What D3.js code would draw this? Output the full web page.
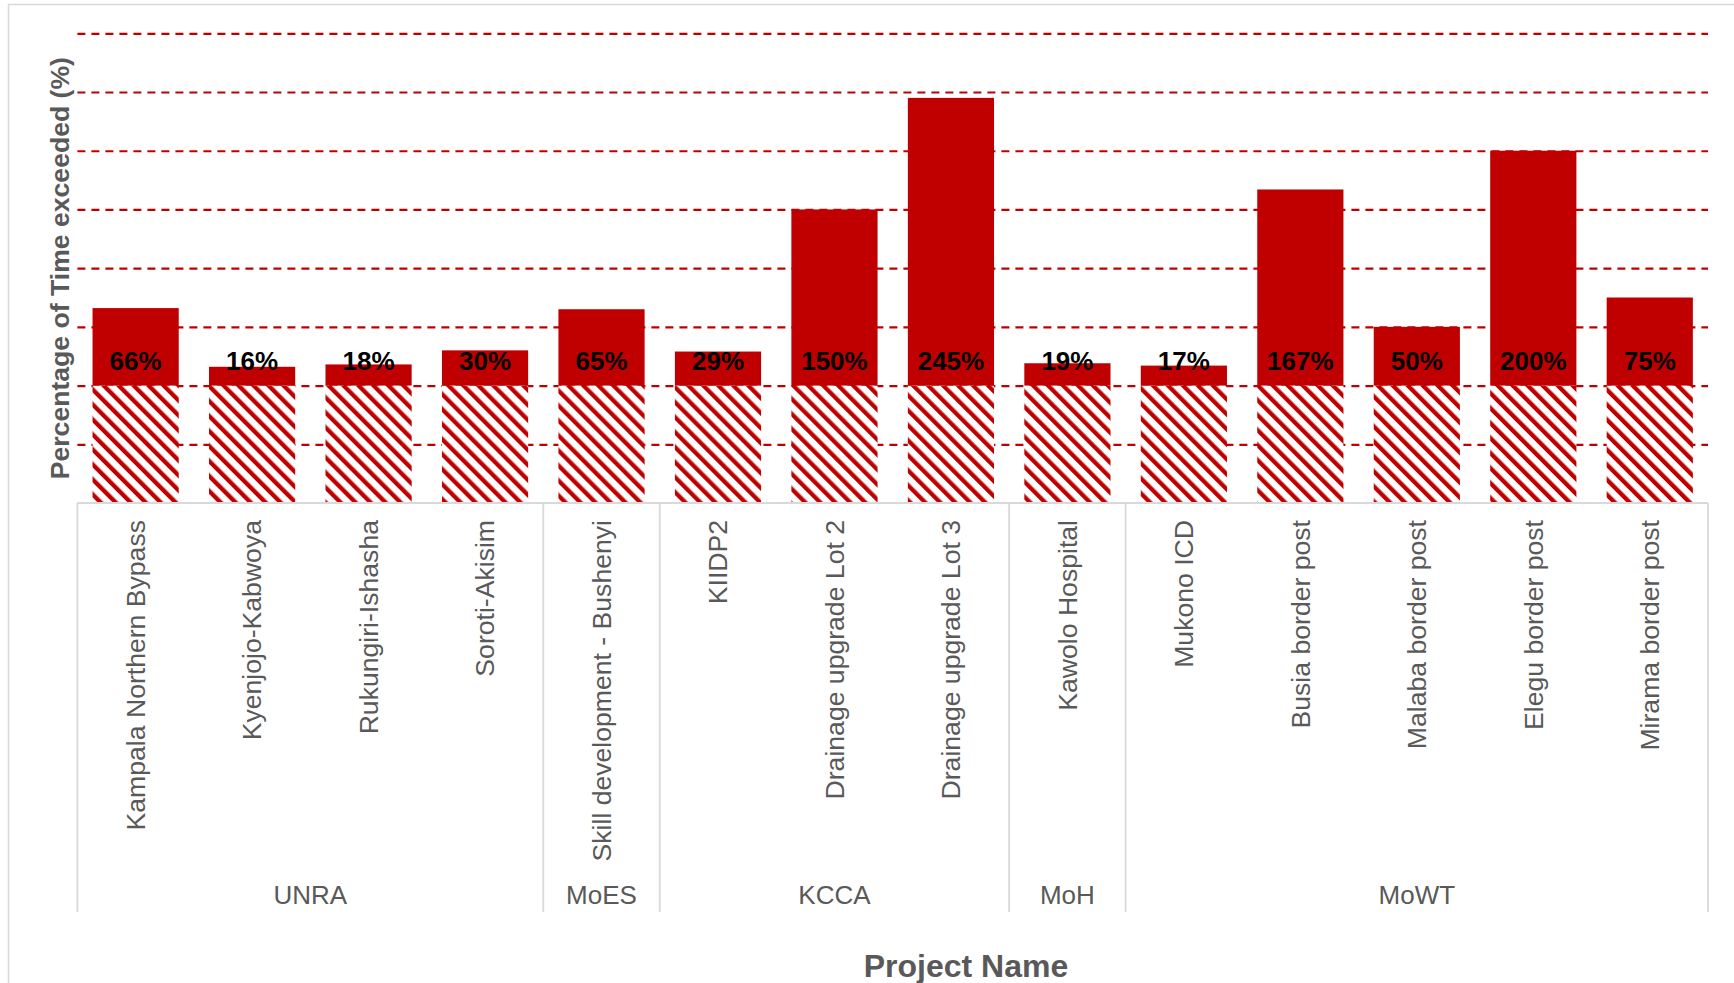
<!DOCTYPE html>
<html>
<head>
<meta charset="utf-8">
<script src="https://cdn.jsdelivr.net/npm/d3@7"></script>
<style>
  html, body { margin: 0; padding: 0; background: #ffffff; }
  svg { display: block; }
  text { font-family: "Liberation Sans", Arial, sans-serif; }
</style>
</head>
<body>
<svg id="chart" width="1734" height="983"></svg>
<script>
// ---- data ----
const categories = [
  "Kampala Northern Bypass", "Kyenjojo-Kabwoya", "Rukungiri-Ishasha", "Soroti-Akisim",
  "Skill development - Bushenyi",
  "KIIDP2", "Drainage upgrade Lot 2", "Drainage upgrade Lot 3",
  "Kawolo Hospital",
  "Mukono ICD", "Busia border post", "Malaba border post", "Elegu border post", "Mirama border post"
];
const agencies = [
  "UNRA", "UNRA", "UNRA", "UNRA",
  "MoES",
  "KCCA", "KCCA", "KCCA",
  "MoH",
  "MoWT", "MoWT", "MoWT", "MoWT", "MoWT"
];
const plannedTime = [100, 100, 100, 100, 100, 100, 100, 100, 100, 100, 100, 100, 100, 100];
const timeExceeded = [66, 16, 18, 30, 65, 29, 150, 245, 19, 17, 167, 50, 200, 75];
const yTicks = [50, 100, 150, 200, 250, 300, 350, 400];
const yTitle = "Percentage of Time exceeded (%)";
const xTitle = "Project Name";

// ---- layout ----
const svg = d3.select("#chart");
const W = 1734, H = 983;
const plotLeft = 77.4, plotRight = 1708, plotTop = 33.3, plotBottom = 503;
const red = "#c00000";
const gray = "#595959";
const lineGray = "#d9d9d9";

const x = d3.scaleBand().domain(categories)
  .range([plotLeft, plotRight]).paddingInner(0.26).paddingOuter(0.13);
const y = d3.scaleLinear().domain([0, 400]).range([plotBottom, plotTop]);

// chart border
svg.append("rect")
  .attr("x", 8.5).attr("y", 4.5).attr("width", W + 20).attr("height", H + 20)
  .attr("fill", "#fff").attr("stroke", lineGray).attr("stroke-width", 1.5);

// hatch pattern
const defs = svg.append("defs");
const pat = defs.append("pattern")
  .attr("id", "hatch").attr("patternUnits", "userSpaceOnUse")
  .attr("width", 10.6).attr("height", 10.6)
  .attr("patternTransform", "rotate(-45)");
pat.append("rect").attr("width", 10.6).attr("height", 10.6).attr("fill", "#fff");
pat.append("rect").attr("x", 0).attr("width", 4.3).attr("height", 10.6).attr("fill", red);

// gridlines
const grid = svg.append("g")
  .attr("transform", `translate(${plotLeft},0)`)
  .call(d3.axisLeft(y).tickValues(yTicks).tickSize(-(plotRight - plotLeft)).tickFormat(""));
grid.select(".domain").remove();
grid.selectAll(".tick line")
  .attr("stroke", red).attr("stroke-width", 2.2).attr("stroke-dasharray", "8,6");

// bars - hatched base
const data = categories.map((c, i) => ({ c, base: plannedTime[i], ex: timeExceeded[i] }));
svg.append("g").selectAll("rect").data(data).join("rect")
  .attr("x", d => x(d.c)).attr("width", x.bandwidth())
  .attr("y", d => y(d.base)).attr("height", d => y(0) - y(d.base))
  .attr("fill", "url(#hatch)");

// bars - exceeded
svg.append("g").selectAll("rect").data(data).join("rect")
  .attr("x", d => x(d.c)).attr("width", x.bandwidth())
  .attr("y", d => y(d.base + d.ex)).attr("height", d => y(d.base) - y(d.base + d.ex))
  .attr("fill", red);

// data labels
svg.append("g").selectAll("text").data(data).join("text")
  .attr("x", d => x(d.c) + x.bandwidth() / 2)
  .attr("y", d => y(d.base) - 15.6)
  .attr("text-anchor", "middle")
  .attr("font-size", 26).attr("font-weight", "bold").attr("fill", "#000")
  .text(d => d.ex + "%");

// category axis
const xAxis = svg.append("g")
  .attr("transform", `translate(0,${plotBottom})`)
  .call(d3.axisBottom(x).tickSize(0));
xAxis.select(".domain").remove();
xAxis.selectAll(".tick text")
  .attr("transform", "rotate(-90)")
  .attr("x", -17).attr("y", 0).attr("dy", "0.35em")
  .attr("text-anchor", "end")
  .attr("font-size", 26.6).attr("fill", gray)
  .style("font-family", "'Liberation Sans', Arial, sans-serif");

// axis line
svg.append("line")
  .attr("x1", plotLeft).attr("x2", plotRight).attr("y1", plotBottom).attr("y2", plotBottom)
  .attr("stroke", lineGray).attr("stroke-width", 1.8);

// group spans
const gap = x.step() - x.bandwidth();
const groups = [];
agencies.forEach((a, i) => {
  if (!groups.length || groups[groups.length - 1].name !== a) groups.push({ name: a, first: i, last: i });
  else groups[groups.length - 1].last = i;
});
const boundary = i => i < categories.length ? x(categories[i]) - gap / 2 : x(categories[categories.length - 1]) + x.bandwidth() + gap / 2;
const sepIdx = [0].concat(groups.map(g => g.last + 1));
svg.append("g").selectAll("line").data(sepIdx).join("line")
  .attr("x1", d => boundary(d)).attr("x2", d => boundary(d))
  .attr("y1", plotBottom).attr("y2", 912)
  .attr("stroke", lineGray).attr("stroke-width", 1.8);

svg.append("g").selectAll("text").data(groups).join("text")
  .attr("x", g => (boundary(g.first) + boundary(g.last + 1)) / 2)
  .attr("y", 904)
  .attr("text-anchor", "middle")
  .attr("font-size", 26).attr("fill", gray)
  .text(g => g.name);

// axis titles
svg.append("text")
  .attr("transform", `translate(69,${(plotTop + plotBottom) / 2}) rotate(-90)`)
  .attr("text-anchor", "middle")
  .attr("font-size", 26.6).attr("font-weight", "bold").attr("fill", gray)
  .text(yTitle);

svg.append("text")
  .attr("x", 966).attr("y", 977)
  .attr("text-anchor", "middle")
  .attr("font-size", 32).attr("font-weight", "bold").attr("fill", gray)
  .text(xTitle);
</script>
</body>
</html>
